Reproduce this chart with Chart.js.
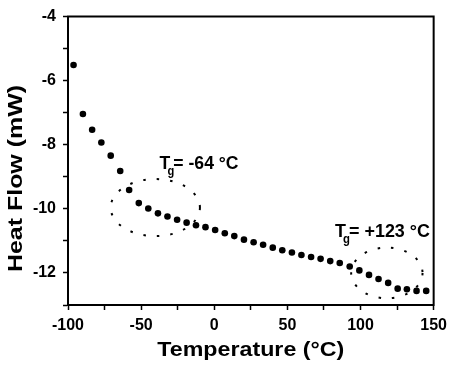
<!DOCTYPE html>
<html><head><meta charset="utf-8">
<script src="https://cdn.jsdelivr.net/npm/chart.js@4/dist/chart.umd.min.js"></script>
<style>html,body{margin:0;padding:0;background:#fff}#wrap{width:453px;height:366px;position:relative}</style>
</head><body><div id="wrap"><canvas id="c"></canvas></div>
<script>
// ---- data ----
const temperature = [-96.2, -89.8, -83.5, -77.2, -70.8, -64.3, -58.2, -51.6, -45.1, -38.5, -32.0, -25.4, -18.9, -12.5, -6.0, 0.6, 7.2, 13.7, 20.3, 26.9, 33.4, 40.0, 46.5, 53.1, 59.6, 66.2, 72.7, 79.3, 85.8, 92.6, 99.2, 105.8, 112.3, 118.9, 125.4, 131.7, 138.3, 144.9];
const heatFlow = [-5.51, -7.04, -7.53, -7.93, -8.34, -8.82, -9.41, -9.82, -9.99, -10.14, -10.24, -10.34, -10.43, -10.51, -10.57, -10.66, -10.76, -10.85, -10.96, -11.04, -11.12, -11.21, -11.29, -11.36, -11.44, -11.50, -11.56, -11.63, -11.69, -11.80, -11.92, -12.06, -12.19, -12.31, -12.49, -12.51, -12.56, -12.56];
const xRange = [-100, 150];
const yRange = [-13, -4];
const xLabelStep = 50;
const yLabelStep = 2;
const xTitle = 'Temperature (°C)';
const yTitle = 'Heat Flow (mW)';
const tgLabels = [
  {sub: 'g', rest: '= -64 °C', t: -37.4, hf: -8.75, width: 79},
  {sub: 'g', rest: '= +123 °C', t: 82.5, hf: -10.88, width: 95}
];
const tgEllipses = [
  {t: -40.3, hf: -9.96, rt: 30.5, rhf: 0.89},
  {t: 118.0, hf: -12.0, rt: 24.4, rhf: 0.79}
];

const FONT = "'Liberation Sans', Arial, sans-serif";

function stretchedText(ctx, text, size, width) {
  ctx.font = 'bold ' + size + 'px ' + FONT;
  const w = ctx.measureText(text).width;
  ctx.scale(width / w, 1);
  ctx.fillText(text, 0, 0);
}

const decor = {
  id: 'decor',
  afterDraw(chart) {
    const ctx = chart.ctx, a = chart.chartArea;
    const xs = chart.scales.x, ys = chart.scales.y;
    ctx.save();
    // frame top/right
    ctx.strokeStyle = '#000'; ctx.lineWidth = 2;
    ctx.beginPath();
    ctx.moveTo(a.left - 1, a.top); ctx.lineTo(a.right, a.top); ctx.lineTo(a.right, a.bottom + 1);
    ctx.stroke();
    // dotted ellipses
    ctx.setLineDash([2.5, 11]); ctx.lineWidth = 2; ctx.lineCap = 'butt';
    tgEllipses.forEach(e => {
      const cx = xs.getPixelForValue(e.t), cy = ys.getPixelForValue(e.hf);
      const rx = Math.abs(xs.getPixelForValue(e.t + e.rt) - cx);
      const ry = Math.abs(ys.getPixelForValue(e.hf + e.rhf) - cy);
      ctx.beginPath(); ctx.ellipse(cx, cy, rx, ry, 0, 0, Math.PI * 2); ctx.stroke();
    });
    ctx.setLineDash([]);
    // Tg labels
    ctx.fillStyle = '#000'; ctx.textBaseline = 'alphabetic'; ctx.textAlign = 'left';
    tgLabels.forEach(l => {
      const x0 = xs.getPixelForValue(l.t), y0 = ys.getPixelForValue(l.hf);
      ctx.save();
      ctx.font = 'bold 19px ' + FONT;
      const wT = ctx.measureText('T').width;
      const wR = ctx.measureText(' ' + l.rest).width;
      const sx = l.width / (wT + wR - 2);
      ctx.translate(x0, y0); ctx.scale(sx, 1);
      ctx.fillText('T', 0, 0);
      ctx.fillText(' ' + l.rest, wT - 2, 0);
      ctx.font = 'bold 12px ' + FONT;
      ctx.fillText(l.sub, wT - 3, 6);
      ctx.restore();
    });
    // axis titles
    ctx.textAlign = 'center';
    ctx.save();
    ctx.translate((a.left + a.right) / 2, 356);
    stretchedText(ctx, xTitle, 20, 187);
    ctx.restore();
    ctx.save();
    ctx.translate(21.5, 178.5);
    ctx.rotate(-Math.PI / 2);
    stretchedText(ctx, yTitle, 20, 187);
    ctx.restore();
    ctx.restore();
  }
};

new Chart(document.getElementById('c'), {
  type: 'scatter',
  data: {
    datasets: [{
      data: temperature.map((t, i) => ({x: t, y: heatFlow[i]})),
      backgroundColor: '#000', borderColor: '#000', borderWidth: 0,
      pointRadius: 3.3, pointHoverRadius: 3.3, showLine: false
    }]
  },
  options: {
    responsive: true, maintainAspectRatio: false, animation: false,
    layout: {padding: {top: 10, right: 17, left: 0, bottom: 0}},
    plugins: {legend: {display: false}, tooltip: {enabled: false}},
    scales: {
      x: {
        type: 'linear', min: xRange[0], max: xRange[1],
        border: {display: true, color: '#000', width: 2},
        grid: {drawOnChartArea: false, drawTicks: true, tickLength: 5, tickWidth: 1.5, tickColor: '#000'},
        ticks: {stepSize: 25, autoSkip: false, maxRotation: 0, padding: 6, color: '#000',
          font: {family: FONT, size: 16, weight: 'bold'},
          callback: v => (v % xLabelStep === 0 ? v : '')},
        afterFit: s => { s.height = 61; }
      },
      y: {
        type: 'linear', min: yRange[0], max: yRange[1],
        border: {display: true, color: '#000', width: 2},
        grid: {drawOnChartArea: false, drawTicks: true, tickLength: 5, tickWidth: 1.5, tickColor: '#000'},
        ticks: {stepSize: 1, autoSkip: false, padding: 7, color: '#000',
          font: {family: FONT, size: 16, weight: 'bold'},
          callback: v => (v % yLabelStep === 0 ? v : '')},
        afterFit: s => { s.width = 68; }
      }
    }
  },
  plugins: [decor]
});
</script></body></html>
